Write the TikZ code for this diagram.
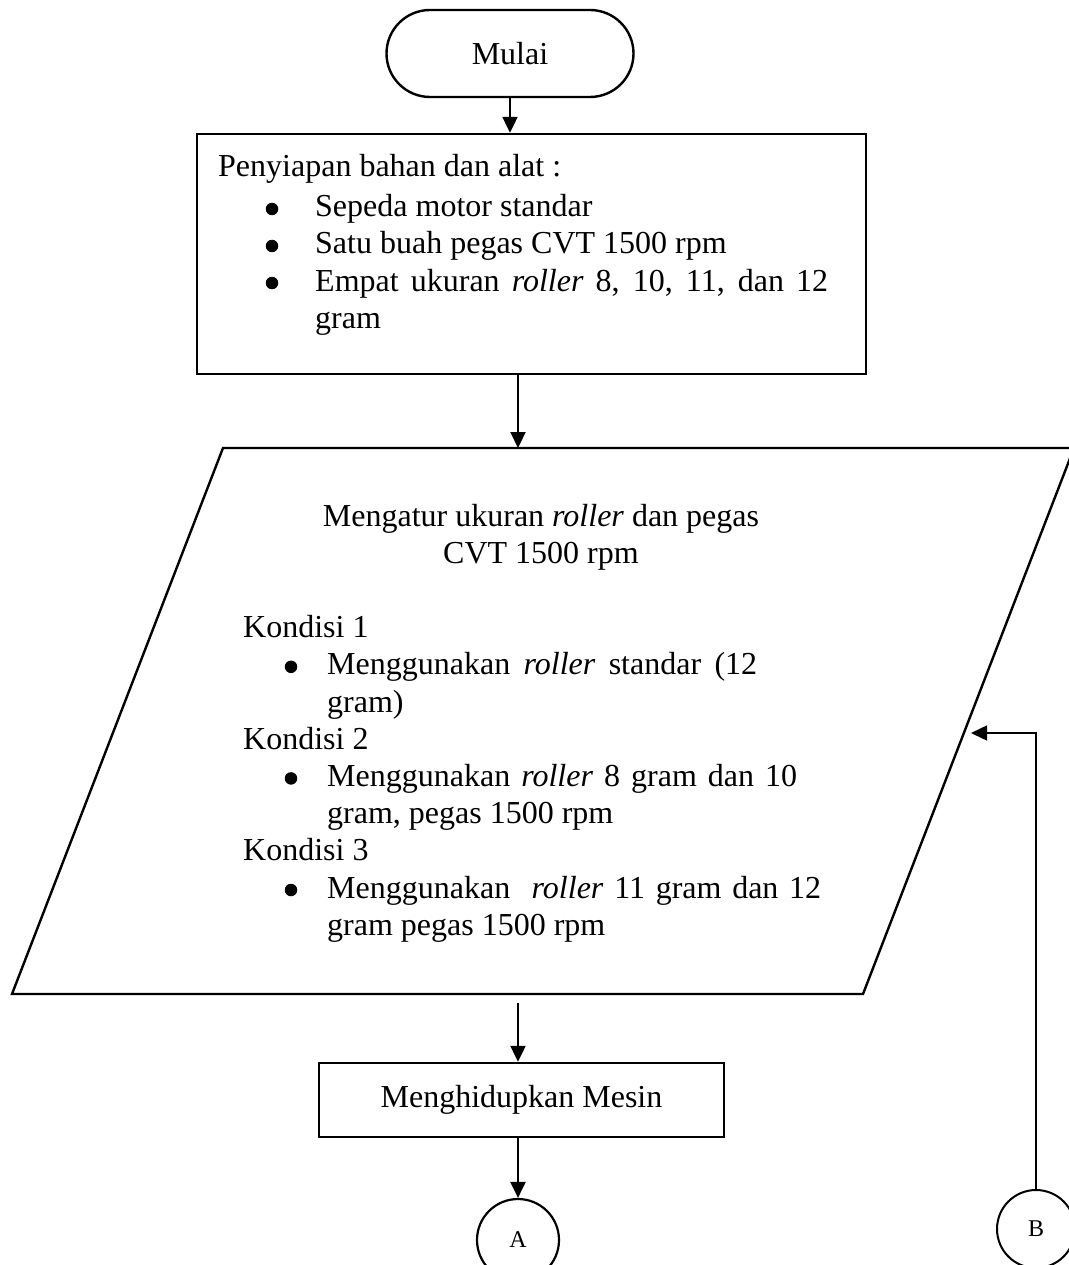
\documentclass[tikz,border=0pt]{standalone}
\usepackage{fontspec}
\setmainfont{Liberation Serif}
\usetikzlibrary{arrows.meta,calc}
\begin{document}
\begin{tikzpicture}[x=1pt,y=-1pt,
  shapeline/.style={line width=2.4pt},
  arr/.style={line width=2.2pt,-{Triangle[length=16pt,width=15pt]}},
  bigfont/.style={font=\fontsize{32}{36.8}\selectfont},
  txt/.style={bigfont,anchor=base west,inner sep=0pt},
  ctxt/.style={bigfont,anchor=base,inner sep=0pt},
  bul/.style={fill=black,circle,inner sep=0pt,minimum size=12.5pt}
]
\useasboundingbox (0,0) rectangle (1068,1265);

% start terminator
\node[draw,shapeline,rounded corners=43.5pt,minimum width=247pt,minimum height=87pt,inner sep=0pt,bigfont] (mulai) at (510,53.5) {Mulai};

% preparation box
\node[draw,shapeline,minimum width=669pt,minimum height=240pt,inner sep=0pt] (box1) at (531.5,254) {};
\node[txt] (t1) at (218,177) {Penyiapan bahan dan alat :};
\node[bul] (b11) at (272,209) {};
\node[txt] (t11) at (315,217) {Sepeda motor standar};
\node[bul] (b12) at (272,246) {};
\node[txt] (t12) at (315,254) {Satu buah pegas CVT 1500 rpm};
\node[bul] (b13) at (272,283) {};
\node[txt] (t13) at (315,291) {\makebox[513pt][s]{Empat ukuran \textit{roller} 8, 10, 11, dan 12}};
\node[txt] (t14) at (315,328) {gram};

% parallelogram
\coordinate (pTL) at (223,448);
\coordinate (pTR) at (1074,448);
\coordinate (pBR) at (863,994);
\coordinate (pBL) at (12,994);
\draw[shapeline] (pTL) -- (pTR) -- (pBR) -- (pBL) -- cycle;
\coordinate (pin) at (518,448);
\coordinate (pout) at (518,1003);
\coordinate (bin) at (971,733);

\node[ctxt] (m1) at (541,526) {Mengatur ukuran \textit{roller} dan pegas};
\node[ctxt] (m2) at (541,563.2) {CVT 1500 rpm};
\node[txt] (k1) at (243,637.6) {Kondisi 1};
\node[bul] (bk1) at (291,666.8) {};
\node[txt] (k1a) at (327,674.8) {\makebox[430pt][s]{Menggunakan \textit{roller} standar (12}};
\node[txt] (k1b) at (327,712) {gram)};
\node[txt] (k2) at (243,749.2) {Kondisi 2};
\node[bul] (bk2) at (291,778.4) {};
\node[txt] (k2a) at (327,786.4) {\makebox[470pt][s]{Menggunakan \textit{roller} 8 gram dan 10}};
\node[txt] (k2b) at (327,823.6) {gram, pegas 1500 rpm};
\node[txt] (k3) at (243,860.8) {Kondisi 3};
\node[bul] (bk3) at (291,890) {};
\node[txt] (k3a) at (327,898) {\makebox[494pt][s]{Menggunakan\ \ \textit{roller} 11 gram dan 12}};
\node[txt] (k3b) at (327,935.2) {gram pegas 1500 rpm};

% engine box
\node[draw,shapeline,minimum width=405pt,minimum height=74pt,inner sep=0pt,bigfont] (box2) at (521.5,1100) {Menghidupkan Mesin};

% connectors
\node[draw,circle,line width=2.2pt,minimum size=82pt,inner sep=0pt,font=\fontsize{24}{28}\selectfont] (A) at (518,1240) {A};
\node[draw,circle,line width=2pt,minimum size=78pt,inner sep=0pt,font=\fontsize{24}{28}\selectfont] (B) at (1036,1229) {B};

% arrows
\draw[arr] (mulai.south) -- (mulai.south |- box1.north);
\draw[arr] (box1.south -| pin) -- (pin);
\draw[arr] (pout) -- (pout |- box2.north);
\draw[arr] (A.north |- box2.south) -- (A.north);
\draw[line width=1.5pt,-{Triangle[length=16pt,width=15pt]}] (B.north) |- (bin);
\end{tikzpicture}
\end{document}
